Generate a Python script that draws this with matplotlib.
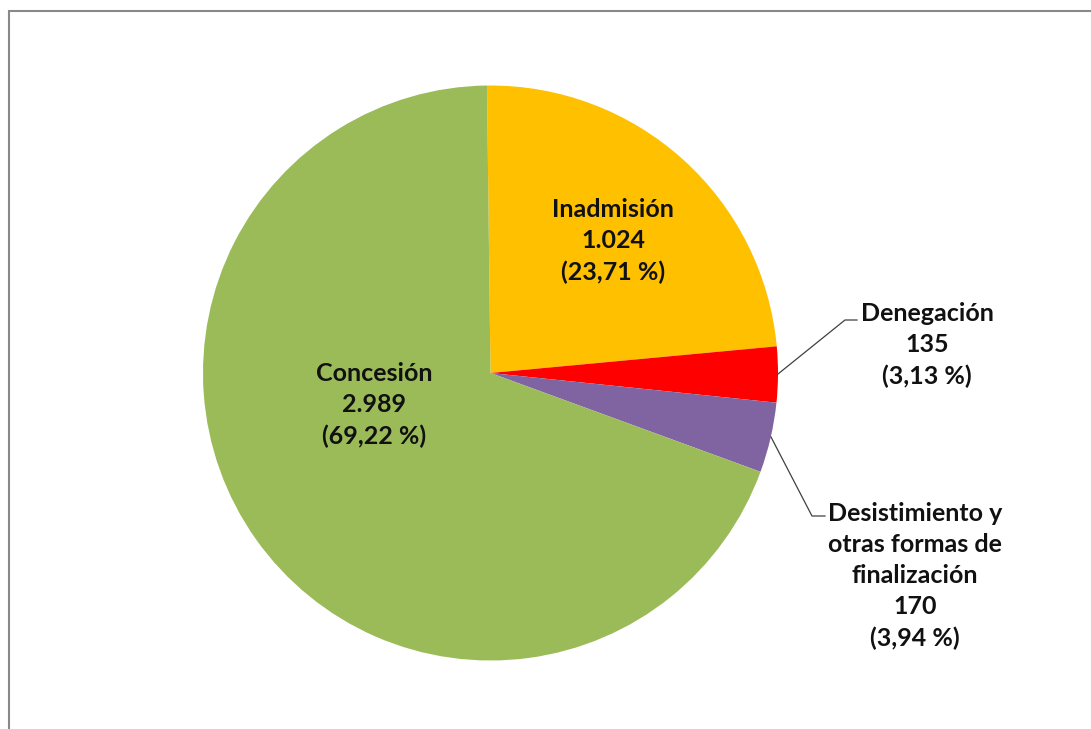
import matplotlib.pyplot as plt
from matplotlib.patches import Rectangle

labels = ['Inadmisión', 'Denegación', 'Desistimiento y\notras formas de\nfinalización', 'Concesión']
values = [1024, 135, 170, 2989]
value_text = ['1.024', '135', '170', '2.989']
pct_text = ['23,71 %', '3,13 %', '3,94 %', '69,22 %']
colors = ['#FFC000', '#FF0000', '#8064A2', '#9BBB59']

W, H = 1091, 729
fig = plt.figure(figsize=(W / 100, H / 100), dpi=100)
ax = fig.add_axes([0, 0, 1, 1])

# pie in pixel coords (y measured from bottom)
cx, cy, r = 490.5, H - 373, 287.5
ax.pie(values, colors=colors, startangle=90.7, counterclock=False,
       center=(cx, cy), radius=r, wedgeprops=dict(linewidth=0))
ax.set_xlim(0, W)
ax.set_ylim(0, H)
ax.set_aspect('equal')
ax.axis('off')

font = dict(family=['Lato', 'DejaVu Sans'], fontsize=18, fontweight='bold',
            ha='center', va='center', linespacing=1.42, color='#111111')

def lab(i):
    return f'{labels[i]}\n{value_text[i]}\n({pct_text[i]})'

ax.text(613, H - 241, lab(0), **font)
ax.text(374, H - 405, lab(3), **font)
ax.text(927, H - 345, lab(1), **font)
ax.text(915, H - 576, lab(2), **font)

# leader lines
ax.plot([778, 845, 857], [H - 374, H - 320, H - 320], color='#404040', lw=0.9)
ax.plot([771, 812, 825], [H - 437, H - 516, H - 516], color='#404040', lw=0.9)

# outer frame of the chart area
fig.patches.append(Rectangle((9 / W, -0.05), 1.1, 1.05 - 11 / H,
                             transform=fig.transFigure, fill=False,
                             edgecolor='#898989', linewidth=1.5))

plt.savefig('out.png', dpi=100)
